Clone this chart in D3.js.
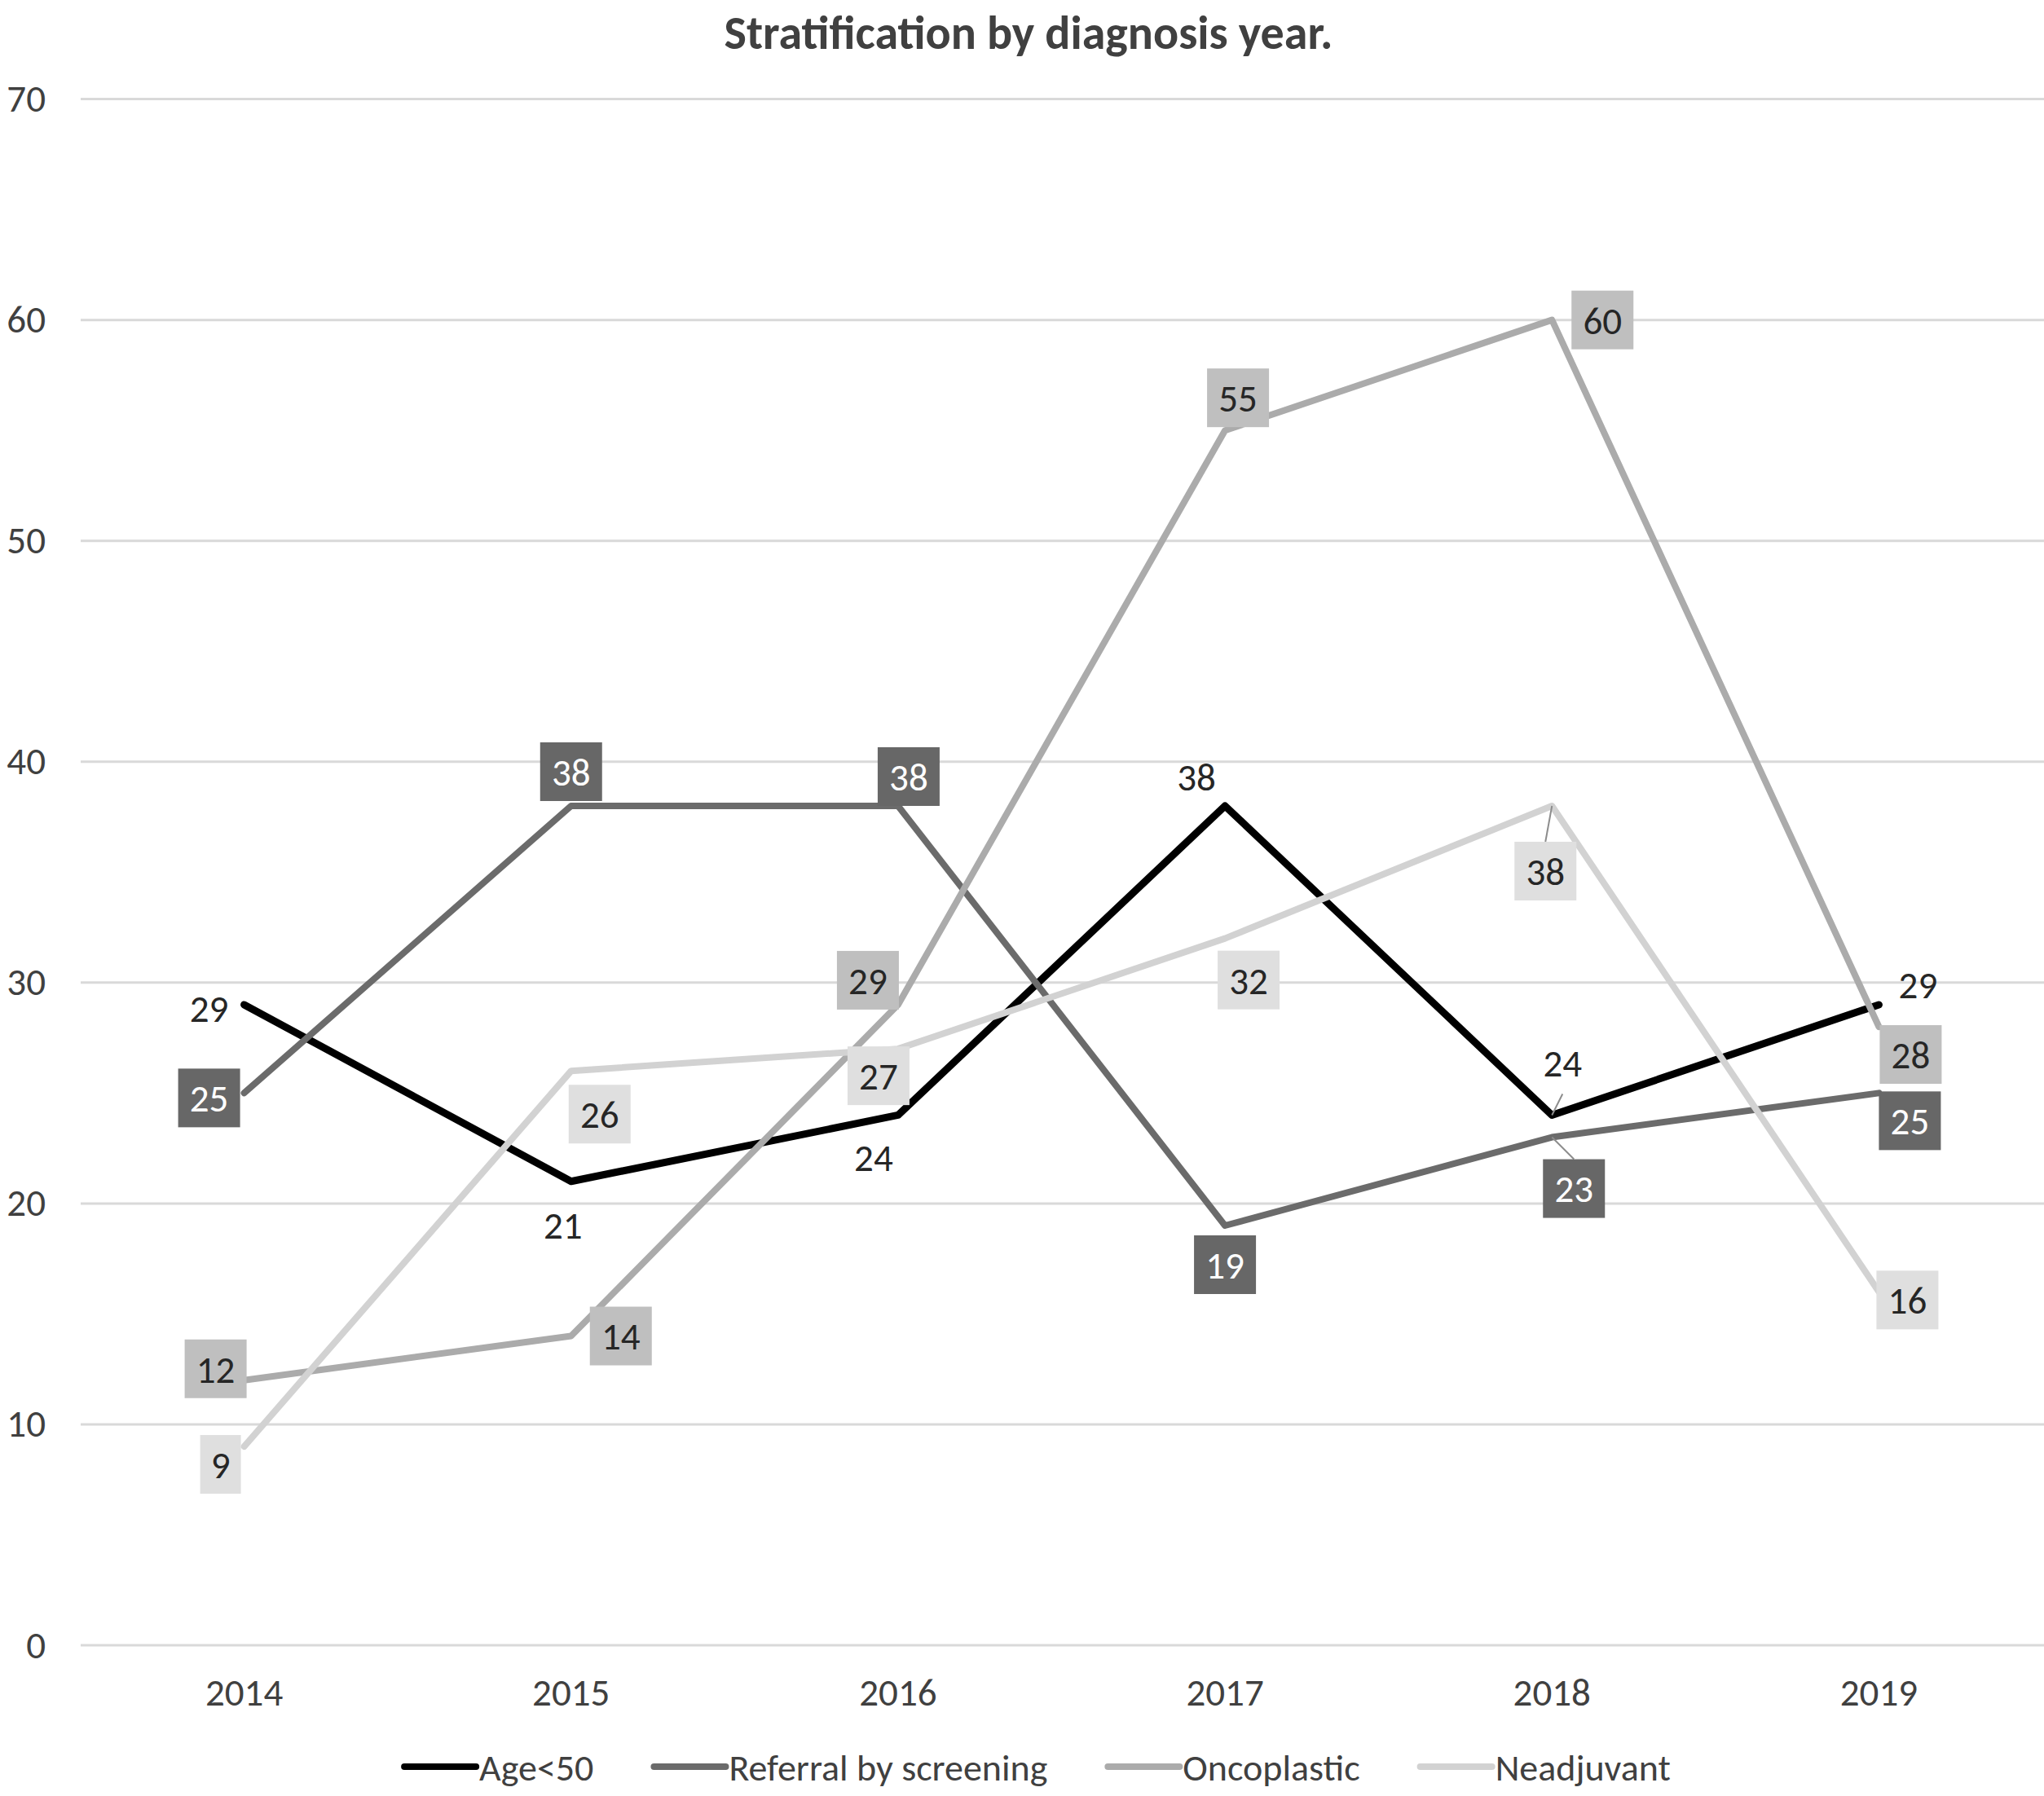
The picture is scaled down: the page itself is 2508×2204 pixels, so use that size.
<!DOCTYPE html>
<html><head><meta charset="utf-8">
<script src="https://cdn.jsdelivr.net/npm/d3@7"></script>
<style>html,body{margin:0;padding:0;background:#fff;}</style>
</head><body>
<script>
// ---- data ----
const years = ["2014","2015","2016","2017","2018","2019"];
const seriesNames = ["Age<50","Referral by screening","Oncoplastic","Neadjuvant"];
const ageUnder50 = [29,21,24,38,24,29];
const referralScreening = [25,38,38,19,23,25];
const oncoplastic = [12,14,29,55,60,28];
const neadjuvant = [9,26,27,32,38,16];
const yTicks = [0,10,20,30,40,50,60,70];
const title = "Stratification by diagnosis year.";

// ---- style / layout ----
const W = 2508, H = 2204;
const FONT = "Carlito, Calibri, Lato, 'Open Sans', sans-serif";
const FS = 47;
const lineColors = ["#000000","#6b6b6b","#ababab","#d2d2d2"];
const boxColors = [null,"#676767","#bfbfbf","#dfdfdf"];
const labelColors = ["#262626","#ffffff","#262626","#262626"];
const lineWidths = [9,8,8,8];
// label offsets (px) relative to each point, and leader-line flags
const labelOffsets = [
  [[-43,4],[-10,53],[-30,52],[-35,-36],[13,-64],[48,-25]],
  [[-43,6],[0,-42],[13,-36],[0,48],[27,63],[38,34]],
  [[-35,-14],[61,0],[-37,-30],[16,-40],[62,0],[39,34]],
  [[-29,22],[35,53],[-24,33],[29,51],[-8,80],[35,10]]
];
const leaders = [
  [0,0,0,0,1,0],[0,0,0,0,1,0],[0,0,0,0,0,0],[0,0,0,0,1,0]
];

const allSeries = [ageUnder50, referralScreening, oncoplastic, neadjuvant];

const svg = d3.select("body").append("svg").attr("width",W).attr("height",H)
  .style("font-family",FONT);
svg.append("rect").attr("width",W).attr("height",H).attr("fill","#fff");

const x = d3.scaleBand().domain(years).range([99,2506]);
const xc = d => x(d) + x.bandwidth()/2;
const y = d3.scaleLinear().domain([0,70]).range([2019,121.6]);

// title
svg.append("text").attr("x",1262).attr("y",60).attr("text-anchor","middle")
  .attr("font-size",58).attr("font-weight","bold").attr("fill","#404040").text(title);

// gridlines
svg.append("g").selectAll("line").data(yTicks).join("line")
  .attr("x1",99).attr("x2",2508).attr("y1",d=>y(d)).attr("y2",d=>y(d))
  .attr("stroke","#d9d9d9").attr("stroke-width",3);

// y axis labels
const yAxis = d3.axisLeft(y).tickValues(yTicks).tickSize(0).tickPadding(0);
const gy = svg.append("g").attr("transform","translate(56,0)").call(yAxis);
gy.select(".domain").remove();
gy.selectAll("text").attr("font-size",FS).attr("fill","#404040").style("font-family",FONT);

// x axis labels
const xAxis = d3.axisBottom(x).tickSize(0).tickPadding(0);
const gx = svg.append("g").attr("transform","translate(0,2060)").call(xAxis);
gx.select(".domain").remove();
gx.selectAll("text").attr("font-size",FS).attr("fill","#404040").style("font-family",FONT);

// lines
const line = d3.line().x((d,i)=>xc(years[i])).y(d=>y(d));
allSeries.forEach((s,k)=>{
  svg.append("path").datum(s).attr("d",line).attr("fill","none")
    .attr("stroke",lineColors[k]).attr("stroke-width",lineWidths[k])
    .attr("stroke-linejoin","round").attr("stroke-linecap","round");
});

// labels
allSeries.forEach((s,k)=>{
  const g = svg.append("g");
  s.forEach((v,i)=>{
    const px = xc(years[i]), py = y(v);
    const [dx,dy] = labelOffsets[k][i];
    const cx = px+dx, cy = py+dy;
    const t = String(v);
    const bw = t.length>1 ? 76 : 50, bh = 72;
    if (leaders[k][i]) {
      const ey = dy>0 ? cy - (boxColors[k]?bh/2:26) : cy + 38;
      g.append("line").attr("x1",px).attr("y1",py).attr("x2",cx).attr("y2",ey)
        .attr("stroke","#8c8c8c").attr("stroke-width",2);
    }
    if (boxColors[k]) {
      g.append("rect").attr("x",cx-bw/2).attr("y",cy-bh/2).attr("width",bw).attr("height",bh)
        .attr("fill",boxColors[k]);
    }
    g.append("text").attr("x",cx).attr("y",cy).attr("dy","0.36em").attr("text-anchor","middle")
      .attr("font-size",FS).attr("fill",labelColors[k]).text(t);
  });
});

// legend
const LFS = 46;
const lg = svg.append("g");
const lineLen = 88, gapText = 4, gapItem = 74, legY = 2168;
let widths = [];
const tmp = lg.append("g");
seriesNames.forEach(n=>{
  const t = tmp.append("text").attr("font-size",LFS).text(n);
  widths.push(t.node().getComputedTextLength());
});
tmp.remove();
const total = d3.sum(widths) + seriesNames.length*(lineLen+gapText) + (seriesNames.length-1)*gapItem;
let cur = 1273 - total/2;
seriesNames.forEach((n,k)=>{
  lg.append("line").attr("x1",cur).attr("x2",cur+lineLen).attr("y1",legY).attr("y2",legY)
    .attr("stroke",lineColors[k]).attr("stroke-width",8).attr("stroke-linecap","round");
  lg.append("text").attr("x",cur+lineLen+gapText).attr("y",legY).attr("dy","0.36em")
    .attr("font-size",LFS).attr("fill","#404040").text(n);
  cur += lineLen+gapText+widths[k]+gapItem;
});
</script>
</body></html>
